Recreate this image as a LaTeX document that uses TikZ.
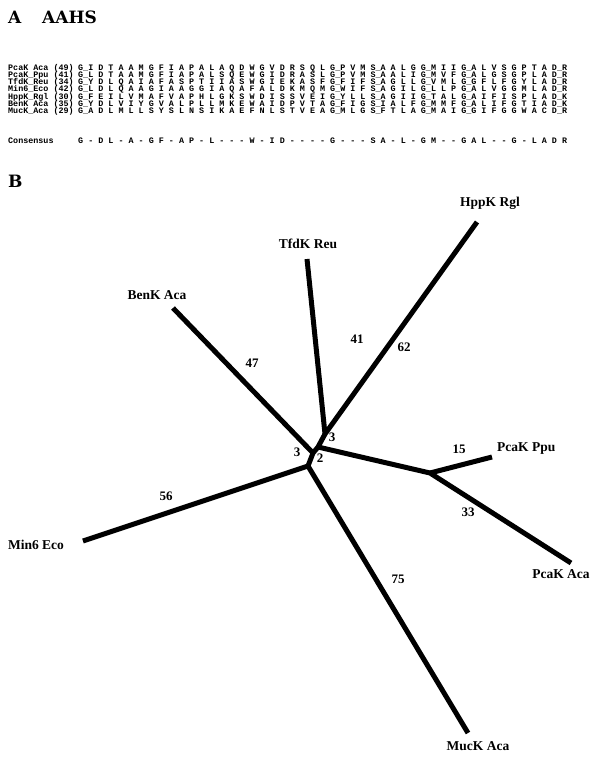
\documentclass[tikz,border=0pt]{standalone}
\usepackage{fontspec}
\setmainfont{Liberation Serif}
\newfontfamily\seqfont{Liberation Mono}
\newfontfamily\headfont{DejaVu Serif}
\begin{document}
\begin{tikzpicture}[x=1pt,y=-1pt,
 seq/.style={anchor=west,inner sep=0pt,font=\seqfont\bfseries\fontsize{8.4}{9}\selectfont,text height=5pt,text depth=1.5pt},
 head/.style={anchor=west,inner sep=0pt,font=\headfont\bfseries\fontsize{17}{20}\selectfont},
 leaf/.style={inner sep=0pt,font=\bfseries\fontsize{13.5}{15}\selectfont},
 elab/.style={inner sep=0pt,font=\bfseries\fontsize{13}{15}\selectfont},
 branch/.style={line width=5pt,line cap=butt,line join=round}]
\useasboundingbox (0,0) rectangle (598,762);
% Panel A
\node[head] (hA) at (8,17) {A};
\node[head] (hAAHS) at (42,17) {AAHS};
\node[seq] (l1) at (8,68.3) {PcaK Aca (49)};
\node[seq] (l2) at (8,75.6) {PcaK\_Ppu (41)};
\node[seq] (l3) at (8,82.9) {TfdK\_Reu (34)};
\node[seq] (l4) at (8,90.2) {Min6\_Eco (42)};
\node[seq] (l5) at (8,97.5) {HppK\_Rgl (30)};
\node[seq] (l6) at (8,104.8) {BenK Aca (35)};
\node[seq] (l7) at (8,112.1) {MucK\_Aca (29)};
\node[seq] (lc) at (8,142) {Consensus};
\node[seq] (s1) at (78,68.3) {G\_I D T A A M G F I A P A L A Q D W G V D R S Q L G\_P V M S\_A A L G G\_M I I G\_A L V S G P T A D\_R};
\node[seq] (s2) at (78,75.6) {G\_L D T A A M G F I A P A L S Q E W G I D R A S L G\_P V M S\_A A L I G\_M V F G\_A L G S G P L A D\_R};
\node[seq] (s3) at (78,82.9) {G\_Y D L Q A I A F A S P T I I A S W G I E K A S F G\_F I F S\_A G L L G\_V M L G\_G F L F G Y L A D\_R};
\node[seq] (s4) at (78,90.2) {G\_L D L Q A A G I A A G G I A Q A F A L D K M Q M G\_W I F S\_A G I L G\_L L P G\_A L V G G M L A D\_R};
\node[seq] (s5) at (78,97.5) {G\_F E I L V M A F V A P H L G K S W D I S S V E I G\_Y L L S\_A G I I G\_T A L G\_A I F I S P L A D\_K};
\node[seq] (s6) at (78,104.8) {G\_Y D L V I Y G V A L P L L M K E W A I D P V T A G\_F I G S\_I A L F G\_M M F G\_A L I F G T I A D\_K};
\node[seq] (s7) at (78,112.1) {G\_A D L M L L S Y S L N S I K A E F N L S T V E A G\_M L G S\_F T L A G\_M A I G\_G I F G G W A C D\_R};
\node[seq] (sc) at (78,142) {G - D L - A - G F - A P - L - - - W - I D - - - - G - - - S A - L - G M - - G A L - - G - L A D R};
% Panel B
\node[head] (hB) at (8,181) {B};
\coordinate (hpp) at (477,222);
\coordinate (tfd) at (307,259);
\coordinate (ben) at (173,308);
\coordinate (min) at (83,541);
\coordinate (muc) at (468,733);
\coordinate (pcaA) at (571,563);
\coordinate (pcaP) at (492,457);
\coordinate (nA) at (325,434);
\coordinate (nB) at (318,447);
\coordinate (nC) at (313,453);
\coordinate (nD) at (308,466);
\coordinate (nP) at (430,473);
\draw[branch] (tfd) -- (nA) -- (hpp);
\draw[branch] (nA) -- (nB) -- (nC) -- (nD);
\draw[branch] (ben) -- (nC);
\draw[branch] (nB) -- (nP) -- (pcaA);
\draw[branch] (nP) -- (pcaP);
\draw[branch] (min) -- (nD) -- (muc);
\node[leaf] (tH) at (490,203) {HppK Rgl};
\node[leaf] (tT) at (308,244) {TfdK Reu};
\node[leaf] (tB) at (157,295) {BenK Aca};
\node[leaf,anchor=west] (tP) at (497,449) {PcaK Ppu};
\node[leaf] (tA) at (561,574) {PcaK Aca};
\node[leaf] (tM) at (36,545) {Min6 Eco};
\node[leaf] (tU) at (478,746) {MucK Aca};
\node[elab] (e41) at (357,339) {41};
\node[elab] (e62) at (404,347) {62};
\node[elab] (e47) at (252,363) {47};
\node[elab] (e3a) at (332,437) {3};
\node[elab] (e3b) at (297,452) {3};
\node[elab] (e2) at (320,458) {2};
\node[elab] (e15) at (459,449) {15};
\node[elab] (e33) at (468,512) {33};
\node[elab] (e56) at (166,496) {56};
\node[elab] (e75) at (398,579) {75};
\end{tikzpicture}
\end{document}
